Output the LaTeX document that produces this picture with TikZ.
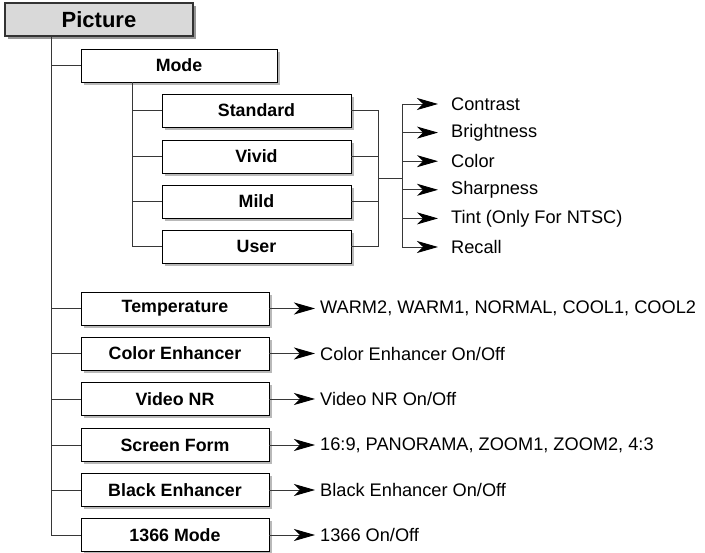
\documentclass[tikz,border=0pt]{standalone}
\usepackage{fontspec}
\setmainfont{Liberation Sans}
\usetikzlibrary{arrows.meta,positioning,calc,shadows}
\definecolor{pichead}  {RGB}{217,217,217}
\definecolor{shadegray}{RGB}{185,185,185}
\definecolor{headshade}{RGB}{150,150,150}
\definecolor{linegray} {RGB}{55,55,55}
\tikzset{
  menubox/.style={draw=black, fill=white, line width=0.9pt,
                  minimum width=#1, minimum height=33pt, inner sep=0pt,
                  font=\fontsize{17.8}{20}\selectfont\bfseries,
                  drop shadow={shadow xshift=3pt, shadow yshift=-3pt,
                               fill=shadegray, opacity=1}},
  menubox/.default=188pt,
  headbox/.style={draw=black!80, fill=pichead, line width=1.6pt,
                  minimum width=188pt, minimum height=33pt, inner sep=0pt,
                  font=\fontsize{22}{24}\selectfont\bfseries,
                  drop shadow={shadow xshift=3pt, shadow yshift=-3pt,
                               fill=headshade, opacity=1}},
  optlabel/.style={anchor=west, inner sep=0pt,
                   font=\fontsize{18.2}{21}\selectfont},
  link/.style={draw=linegray, line width=0.9pt},
  arr/.style ={link, -{Stealth[length=21pt,width=12pt,inset=6pt,
                               color=black,fill=black]}},
}
\begin{document}
\begin{tikzpicture}[x=1pt,y=-1pt]
  \useasboundingbox (0,0) rectangle (705,553);
  %% top level
  \node[headbox] (picbox) at (99,19.5) {Picture};
  \node[menubox=196pt] (modebox) at (179,65.5) {Mode};
  %% mode presets
  \node[menubox=189pt] (std)   at (256.5,110.5) {Standard};
  \node[menubox=189pt] (vivid) at (256.5,156.5) {Vivid};
  \node[menubox=189pt] (mild)  at (256.5,201.5) {Mild};
  \node[menubox=189pt] (user)  at (256.5,246.5) {User};
  %% other items
  \node[menubox] (temp)     at (175,308.5) {Temperature};
  \node[menubox] (colenh)   at (175,353.5) {Color Enhancer};
  \node[menubox] (vnr)      at (175,399)   {Video NR};
  \node[menubox] (scrform)  at (175,445)   {Screen Form};
  \node[menubox] (blkenh)   at (175,490)   {Black Enhancer};
  \node[menubox] (mode1366) at (175,535)   {1366 Mode};
  %% picture trunk
  \coordinate (ptop) at ($(picbox.south west)+(47,0)$);
  \draw[link] (ptop) |- (mode1366.west);
  \foreach \n in {modebox,temp,colenh,vnr,scrform,blkenh}
    \draw[link] (ptop |- \n) -- (\n.west);
  %% mode trunk
  \coordinate (mtop) at ($(modebox.south west)+(52,0)$);
  \draw[link] (mtop) |- (user.west);
  \foreach \n in {std,vivid,mild}
    \draw[link] (mtop |- \n) -- (\n.west);
  %% bracket on the right of the presets
  \coordinate (stdr) at ($(std.east)+(27,0)$);
  \draw[link] (std.east) -- (stdr) |- (user.east);
  \foreach \n in {vivid,mild}
    \draw[link] (\n.east) -- (stdr |- \n);
  \coordinate (brmid) at ($(stdr)!0.5!(stdr |- user)$);
  \coordinate (fork) at ($(brmid)+(24,0)$);
  \draw[link] (brmid) -- (fork);
  %% adjustable settings
  \node[optlabel] (contrast) at (451,104)   {Contrast};
  \node[optlabel] (bright)   at (451,132.6) {Brightness};
  \node[optlabel] (color)    at (451,161.2) {Color};
  \node[optlabel] (sharp)    at (451,189.8) {Sharpness};
  \node[optlabel] (tint)     at (451,218.4) {Tint (Only For NTSC)};
  \node[optlabel] (recall)   at (451,247)   {Recall};
  \draw[link] (fork |- contrast) -- (fork |- recall);
  \foreach \n in {contrast,bright,color,sharp,tint,recall}
    \draw[arr, shorten >=13pt] (fork |- \n) -- (\n.west);
  %% values of the other items
  \node[optlabel] (tempval)  at (320,308.5) {WARM2, WARM1, NORMAL, COOL1, COOL2};
  \node[optlabel] (colval)   at (320,353.5) {Color Enhancer On/Off};
  \node[optlabel] (vnrval)   at (320,399)   {Video NR On/Off};
  \node[optlabel] (scrval)   at (320,445)   {16:9, PANORAMA, ZOOM1, ZOOM2, 4:3};
  \node[optlabel] (blkval)   at (320,490)   {Black Enhancer On/Off};
  \node[optlabel] (val1366)  at (320,535)   {1366 On/Off};
  \draw[arr, shorten >=5pt] (temp.east)     -- (tempval.west);
  \draw[arr, shorten >=5pt] (colenh.east)   -- (colval.west);
  \draw[arr, shorten >=5pt] (vnr.east)      -- (vnrval.west);
  \draw[arr, shorten >=5pt] (scrform.east)  -- (scrval.west);
  \draw[arr, shorten >=5pt] (blkenh.east)   -- (blkval.west);
  \draw[arr, shorten >=5pt] (mode1366.east) -- (val1366.west);
\end{tikzpicture}
\end{document}
